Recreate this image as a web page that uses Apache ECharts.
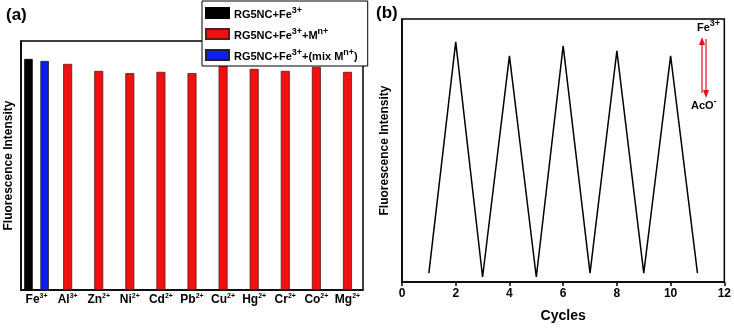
<!DOCTYPE html>
<html>
<head>
<meta charset="utf-8">
<script src="https://cdn.jsdelivr.net/npm/echarts@6/dist/echarts.min.js"></script>
<style>
  html, body { margin: 0; padding: 0; background: #fff; }
  #chart { width: 734px; height: 328px; }
</style>
</head>
<body>
<div id="chart"></div>
<script>
// panel (a) - selectivity
const ions = ["Fe", "Al", "Zn", "Ni", "Cd", "Pb", "Cu", "Hg", "Cr", "Co", "Mg"];
const charges = ["3+", "3+", "2+", "2+", "2+", "2+", "2+", "2+", "2+", "2+", "2+"];
const feOnly = [92.8, "-", "-", "-", "-", "-", "-", "-", "-", "-", "-"];
const feMix = [92.0, "-", "-", "-", "-", "-", "-", "-", "-", "-", "-"];
const feMetal = ["-", 90.8, 88.0, 87.1, 87.6, 87.1, 90.8, 88.8, 88.0, 89.6, 87.6];

// panel (b) - reversibility
const cycles = [1, 2, 3, 4, 5, 6, 7, 8, 9, 10, 11];
const intensity = [3.4, 91.3, 1.9, 86.0, 1.9, 89.8, 3.4, 87.9, 3.4, 86.0, 3.4];

const FONT = "Liberation Sans";
const legendText = {
  fe: "{b|RG5NC+Fe}{s|3+}",
  metal: "{b|RG5NC+Fe}{s|3+}{b|+M}{s|n+}",
  mix: "{b|RG5NC+Fe}{s|3+}{b|+(mix M}{s|n+}{b|)}"
};
const supRich = {
  b: { fontFamily: FONT, fontWeight: "bold", fontSize: 11, color: "#000", verticalAlign: "bottom" },
  s: { fontFamily: FONT, fontWeight: "bold", fontSize: 9, color: "#000", verticalAlign: "bottom", padding: [0, 0, 5, 0] }
};

const chart = echarts.init(document.getElementById("chart"));

const option = {
  animation: false,
  title: [
    { text: "(a)", left: 1, top: 2, textStyle: { fontFamily: FONT, fontWeight: "bold", fontSize: 17, color: "#000" } },
    { text: "(b)", left: 371, top: 0, textStyle: { fontFamily: FONT, fontWeight: "bold", fontSize: 17, color: "#000" } }
  ],
  legend: {
    orient: "vertical",
    left: 202,
    top: 1,
    width: 164,
    padding: [5, 10, 4, 3],
    icon: "rect",
    itemWidth: 23,
    itemHeight: 10,
    itemGap: 7,
    backgroundColor: "#fff",
    borderColor: "#000",
    borderWidth: 1,
    data: ["fe", "metal", "mix"],
    formatter: (name) => legendText[name],
    textStyle: { rich: supRich }
  },
  grid: [
    { left: 21, top: 41, width: 342, height: 249, show: true, borderColor: "#000", borderWidth: 1.5, backgroundColor: "transparent" },
    { left: 402, top: 19, width: 324, height: 265, show: true, borderColor: "#000", borderWidth: 1.5, backgroundColor: "transparent" }
  ],
  xAxis: [
    {
      type: "category",
      gridIndex: 0,
      data: ions,
      axisLine: { lineStyle: { color: "#000", width: 1.5 } },
      axisTick: { alignWithLabel: true, length: 3, lineStyle: { color: "#000", width: 1.2 } },
      axisLabel: {
        margin: 3,
        interval: 0,
        formatter: (v, i) => "{b|" + v + "}{s|" + charges[i] + "}",
        rich: {
          b: { fontFamily: FONT, fontWeight: "bold", fontSize: 12, color: "#000", verticalAlign: "bottom" },
          s: { fontFamily: FONT, fontWeight: "bold", fontSize: 7, color: "#000", verticalAlign: "bottom", padding: [0, 0, 6, 0] }
        }
      }
    },
    {
      type: "category",
      gridIndex: 0,
      data: ions,
      show: false
    },
    {
      type: "value",
      gridIndex: 1,
      min: 0,
      max: 12,
      interval: 2,
      name: "Cycles",
      nameLocation: "middle",
      nameGap: 27,
      nameTextStyle: { fontFamily: FONT, fontWeight: "bold", fontSize: 14, color: "#000" },
      splitLine: { show: false },
      axisLine: { lineStyle: { color: "#000", width: 1.5 } },
      axisTick: { length: 4, lineStyle: { color: "#000", width: 1.5 } },
      axisLabel: { margin: 6, fontFamily: FONT, fontWeight: "bold", fontSize: 12, color: "#000" }
    }
  ],
  yAxis: [
    {
      type: "value",
      gridIndex: 0,
      min: 0,
      max: 100,
      name: "Fluorescence Intensity",
      nameLocation: "middle",
      nameGap: 6,
      nameTextStyle: { fontFamily: FONT, fontWeight: "bold", fontSize: 12, color: "#000" },
      splitLine: { show: false },
      axisTick: { show: false },
      axisLabel: { show: false },
      axisLine: { show: true, lineStyle: { color: "#000", width: 1.5 } }
    },
    {
      type: "value",
      gridIndex: 1,
      min: 0,
      max: 100,
      name: "Fluorescence Intensity",
      nameLocation: "middle",
      nameGap: 11,
      nameTextStyle: { fontFamily: FONT, fontWeight: "bold", fontSize: 12, color: "#000" },
      splitLine: { show: false },
      axisTick: { show: false },
      axisLabel: { show: false },
      axisLine: { show: true, lineStyle: { color: "#000", width: 1.5 } }
    }
  ],
  series: [
    {
      name: "fe",
      type: "bar",
      xAxisIndex: 0,
      yAxisIndex: 0,
      data: feOnly,
      barWidth: 8.5,
      barGap: "90%",
      itemStyle: { color: "#000", borderColor: "#000", borderWidth: 0.8 }
    },
    {
      name: "mix",
      type: "bar",
      xAxisIndex: 0,
      yAxisIndex: 0,
      data: feMix,
      barWidth: 8.5,
      barGap: "90%",
      itemStyle: { color: "#0a1ff0", borderColor: "#222", borderWidth: 0.8 }
    },
    {
      name: "metal",
      type: "bar",
      xAxisIndex: 1,
      yAxisIndex: 0,
      data: feMetal,
      barWidth: 9,
      itemStyle: { color: "#f01010", borderColor: "#5a1a1a", borderWidth: 0.8 }
    },
    {
      name: "cycles",
      type: "line",
      xAxisIndex: 2,
      yAxisIndex: 1,
      data: cycles.map((c, i) => [c, intensity[i]]),
      showSymbol: false,
      symbol: "none",
      lineStyle: { color: "#000", width: 1.5 }
    }
  ],
  graphic: [
    // Fe3+ / AcO- switching annotation
    { type: "line", shape: { x1: 702, y1: 44, x2: 702, y2: 93 }, style: { stroke: "#e8101e", lineWidth: 1.2 } },
    { type: "polygon", shape: { points: [[702, 37], [699, 45], [705, 45]] }, style: { fill: "#e8101e" } },
    { type: "line", shape: { x1: 706, y1: 39, x2: 706, y2: 91 }, style: { stroke: "#e8101e", lineWidth: 1.2 } },
    { type: "polygon", shape: { points: [[706, 98], [703, 90], [709, 90]] }, style: { fill: "#e8101e" } },
    {
      type: "text", left: 697, top: 19,
      style: { text: "{b|Fe}{s|3+}", rich: supRich }
    },
    {
      type: "text", left: 691, top: 97,
      style: { text: "{b|AcO}{s|-}", rich: supRich }
    }
  ]
};

chart.setOption(option);
</script>
</body>
</html>
